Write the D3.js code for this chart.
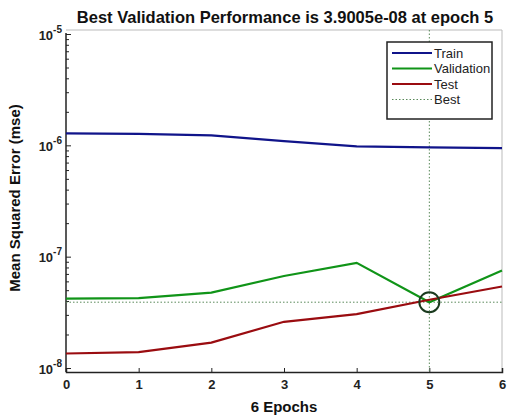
<!DOCTYPE html>
<html><head><meta charset="utf-8">
<script src="https://cdn.jsdelivr.net/npm/d3@7"></script>
<style>body{margin:0;background:#fff}svg{display:block}</style>
</head><body>
<svg id="c" width="511" height="416"></svg>
<script>
const epochs = [0,1,2,3,4,5,6];
const trainPerf = [1.28e-6,1.27e-6,1.23e-6,1.09e-6,0.98e-6,0.96e-6,0.945e-6];
const valPerf = [4.2e-8,4.25e-8,4.75e-8,6.7e-8,8.8e-8,3.9005e-8,7.5e-8];
const testPerf = [1.35e-8,1.39e-8,1.69e-8,2.6e-8,3.05e-8,4.1e-8,5.4e-8];
const bestEpoch = 5;
const bestPerf = 3.9005e-8;
const xTicks = [0,1,2,3,4,5,6];
const yTicks = [1e-8,1e-7,1e-6,1e-5];
const yTickExp = ["-8","-7","-6","-5"];
const seriesNames = ["Train","Validation","Test","Best"];
const colors = {Train:"#10148a", Validation:"#109418", Test:"#9a0c10", Best:"#5a8a5a"};

const svg = d3.select("#c");
const L = 66, R = 502, T = 30, B = 372;
const x = d3.scaleLinear().domain([0,6]).range([L,R]);
const y = d3.scaleLog().domain([1e-8,1e-5]).range([368,34]);

// frame (top/right light)
svg.append("line").attr("x1",L).attr("x2",R).attr("y1",T).attr("y2",T).attr("stroke","#bbb").attr("stroke-width",1);
svg.append("line").attr("x1",R).attr("x2",R).attr("y1",T).attr("y2",B).attr("stroke","#bbb").attr("stroke-width",1);

// axes
const fontF = "Liberation Sans, Arial, sans-serif";
const xAxis = d3.axisBottom(x).tickValues(xTicks).tickSize(-4).tickPadding(8).tickFormat(d3.format("d"));
const gx = svg.append("g").attr("transform",`translate(0,${B})`).call(xAxis);
gx.select(".domain").attr("stroke","#222").attr("stroke-width",1.5);
gx.selectAll(".tick line").attr("stroke","#222");
gx.selectAll("text").attr("font-family",fontF).attr("font-size",13).attr("font-weight","bold").attr("fill","#222");

// minor log ticks
const minor = [];
for (let e=-8;e<-5;e++) for (let m=2;m<=9;m++) minor.push(m*Math.pow(10,e));
const yAxisMinor = d3.axisLeft(y).tickValues(minor).tickSize(-3).tickFormat("");
const gym = svg.append("g").attr("transform",`translate(${L},0)`).call(yAxisMinor);
gym.select(".domain").remove();
gym.selectAll(".tick line").attr("stroke","#222");

const yAxis = d3.axisLeft(y).tickValues(yTicks).tickSize(-5).tickPadding(6).tickFormat("");
const gy = svg.append("g").attr("transform",`translate(${L},0)`).call(yAxis);
gy.select(".domain").remove();
gy.selectAll(".tick line").attr("stroke","#222");
svg.append("line").attr("x1",L).attr("x2",L).attr("y1",T+3).attr("y2",B).attr("stroke","#222").attr("stroke-width",1.5);
gy.selectAll(".tick").each(function(d,i){
  const t = d3.select(this).append("text").attr("x",-4).attr("y",5).attr("text-anchor","end")
    .attr("font-family",fontF).attr("font-size",13).attr("font-weight","bold").attr("fill","#222");
  t.append("tspan").text("10");
  t.append("tspan").attr("dy",-7).attr("font-size",10).text(yTickExp[i]);
});

// best lines
svg.append("line").attr("x1",x(bestEpoch)).attr("x2",x(bestEpoch)).attr("y1",T).attr("y2",B)
  .attr("stroke",colors.Best).attr("stroke-width",1).attr("stroke-dasharray","1.5,2");
svg.append("line").attr("x1",L).attr("x2",R).attr("y1",y(bestPerf)).attr("y2",y(bestPerf))
  .attr("stroke",colors.Best).attr("stroke-width",1).attr("stroke-dasharray","1.5,2");

// lines
const line = d3.line().x((d,i)=>x(epochs[i])).y(d=>y(d));
[["Train",trainPerf],["Validation",valPerf],["Test",testPerf]].forEach(([n,v])=>{
  svg.append("path").attr("d",line(v)).attr("fill","none").attr("stroke",colors[n]).attr("stroke-width",2.2);
});

// best circle
svg.append("circle").attr("cx",x(bestEpoch)).attr("cy",y(bestPerf)).attr("r",10)
  .attr("fill","none").attr("stroke","#1a3a1e").attr("stroke-width",2);

// legend
const lg = svg.append("g");
lg.append("rect").attr("x",387).attr("y",42).attr("width",105).attr("height",77)
  .attr("fill","#fff").attr("stroke","#222").attr("stroke-width",1.5);
seriesNames.forEach((n,i)=>{
  const yy = 53 + i*15.5;
  lg.append("line").attr("x1",392).attr("x2",432).attr("y1",yy).attr("y2",yy)
    .attr("stroke",colors[n]).attr("stroke-width", n==="Best"?1:2.2)
    .attr("stroke-dasharray", n==="Best"?"1.5,2":null);
  lg.append("text").attr("x",434).attr("y",yy+4.5).text(n)
    .attr("font-family",fontF).attr("font-size",13).attr("fill","#222");
});

// title and labels
svg.append("text").attr("x",285).attr("y",23).attr("text-anchor","middle")
  .attr("font-family",fontF).attr("font-size",16.5).attr("font-weight","bold").attr("fill","#111")
  .text("Best Validation Performance is 3.9005e-08 at epoch 5");
svg.append("text").attr("x",284).attr("y",412).attr("text-anchor","middle")
  .attr("font-family",fontF).attr("font-size",15).attr("font-weight","bold").attr("fill","#111")
  .text("6 Epochs");
svg.append("text").attr("transform","translate(20,198) rotate(-90)").attr("text-anchor","middle")
  .attr("font-family",fontF).attr("font-size",15).attr("font-weight","bold").attr("fill","#111")
  .text("Mean Squared Error (mse)");
</script>
</body></html>
